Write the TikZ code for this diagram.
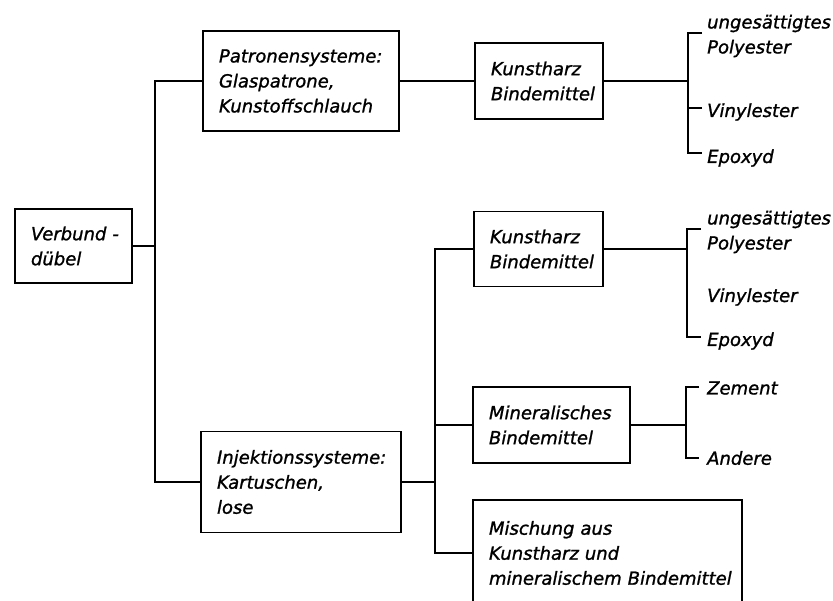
\documentclass[tikz,border=0pt]{standalone}
\usepackage{fontspec}
\setmainfont{DejaVu Sans}[FakeBold=1.2]
\hfuzz=30pt
\hyphenpenalty=10000
\exhyphenpenalty=10000
\tikzset{
  schrift/.style={font=\itshape\fontsize{18}{25}\selectfont},
  kasten/.style={draw, line width=1.4pt, align=left, inner xsep=16pt, schrift},
  blatt/.style={anchor=west, align=left, inner sep=2pt, schrift},
  linie/.style={line width=1.1pt}
}

\begin{document}
\begin{tikzpicture}[x=1pt, y=-1pt]
      \useasboundingbox (0,0) rectangle (833,601);
      \clip (0,0) rectangle (833,601);

      \node[kasten, text width=85pt, minimum height=74pt] (verbund) at (73.5,246) {\mbox{Verbund -}\\dübel};
      \node[kasten, text width=164pt, minimum height=100pt] (patronen) at (301,81) {Patronensysteme:\\Glaspatrone,\\Kunstoffschlauch};
      \node[kasten, text width=168pt, minimum height=101pt] (injekt) at (301,482) {Injektionssysteme:\\Kartuschen,\\lose};
      \node[kasten, text width=96pt, minimum height=76pt] (harz1) at (539,81) {Kunstharz\\Bindemittel};
      \node[kasten, text width=97pt, minimum height=75pt] (harz2) at (538.5,249) {Kunstharz\\Bindemittel};
      \node[kasten, text width=125pt, minimum height=76pt] (mineral) at (551.5,425) {Mineralisches\\Bindemittel};
      \node[kasten, text width=237pt, minimum height=106pt] (mischung) at (607.5,553) {Mischung aus\\Kunstharz und\\\mbox{mineralischem Bindemittel}};

      \node[blatt] (b11) at (705,36) {ungesättigtes\\Polyester};
      \node[blatt] (b12) at (705,112) {Vinylester};
      \node[blatt] (b13) at (705,158) {Epoxyd};
      \node[blatt] (b21) at (705,232) {ungesättigtes\\Polyester};
      \node[blatt] (b22) at (705,297) {Vinylester};
      \node[blatt] (b23) at (705,341) {Epoxyd};
      \node[blatt] (b31) at (705,388) {Zement};
      \node[blatt] (b32) at (705,458) {Andere};

      \coordinate (st1) at (155,246);
      \coordinate (st2) at (435,482);
      \coordinate (g1) at (688,81);
      \coordinate (g2) at (687,249);
      \coordinate (g3) at (686,425);
      \coordinate (t11) at (702,33);
      \coordinate (t12) at (702,108);
      \coordinate (t13) at (702,153);
      \coordinate (t21) at (701,229);
      \coordinate (t23) at (701,337);
      \coordinate (t31) at (699,387);
      \coordinate (t32) at (699,458);

      \draw[linie] (verbund.east) -- (st1);
      \draw[linie] (patronen.west) -| (st1) |- (injekt.west);
      \draw[linie] (patronen.east) -- (harz1.west);
      \draw[linie] (injekt.east) -- (st2);
      \draw[linie] (harz2.west) -| (st2) |- (mischung.west);
      \draw[linie] (mineral.west) -- (mineral.west -| st2);

      \draw[linie] (harz1.east) -- (g1);
      \draw[linie] (t11) -| (g1) |- (t13);
      \draw[linie] (t12) -- (t12 -| g1);
      \draw[linie] (harz2.east) -- (g2);
      \draw[linie] (t21) -| (g2) |- (t23);
      \draw[linie] (mineral.east) -- (g3);
      \draw[linie] (t31) -| (g3) |- (t32);
\end{tikzpicture}
\end{document}
